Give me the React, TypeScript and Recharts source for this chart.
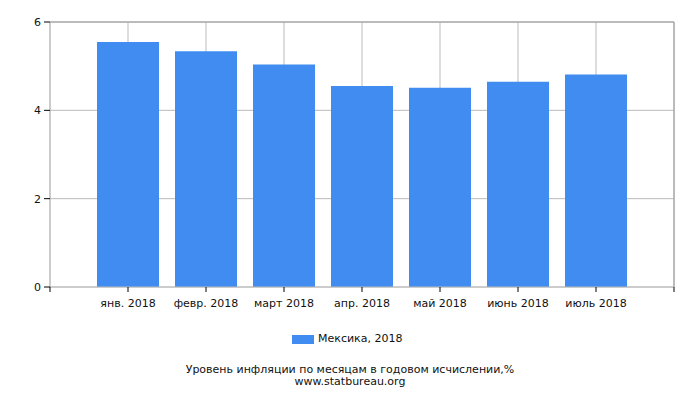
import { BarChart, Bar, XAxis, YAxis, CartesianGrid, ReferenceLine } from "recharts";

const months = ["янв. 2018", "февр. 2018", "март 2018", "апр. 2018", "май 2018", "июнь 2018", "июль 2018"];
const mexico = [5.55, 5.34, 5.04, 4.55, 4.51, 4.65, 4.81];
const yTicks = [0, 2, 4, 6];

const data = months.map((m, i) => ({ pos: i + 1, month: m, value: mexico[i] }));
const xTicks = [0, ...months.map((_, i) => i + 1), months.length + 1];

const font = "'DejaVu Sans', sans-serif";

export default function App() {
  return (
    <div style={{ position: "absolute", left: 0, top: 0, width: 700, height: 400, background: "#fff", fontFamily: font }}>
      <BarChart width={700} height={400} data={data} margin={{ top: 22, right: 26, left: 0, bottom: 0 }}>
        <CartesianGrid stroke="#bbb" />
        <XAxis
          dataKey="pos"
          type="number"
          domain={[0, months.length + 1]}
          ticks={xTicks}
          interval={0}
          height={113}
          tickSize={5}
          tickMargin={7}
          stroke="#bbb"
          tickLine={{ stroke: "#000" }}
          tick={{ fill: "#111", fontSize: 11, fontFamily: font }}
          tickFormatter={(v) => months[v - 1] ?? ""}
        />
        <YAxis
          width={50}
          domain={[0, 6]}
          ticks={yTicks}
          tickSize={6}
          tickMargin={3}
          stroke="#bbb"
          tickLine={{ stroke: "#000" }}
          tick={{ fill: "#111", fontSize: 11, fontFamily: font }}
        />
        <ReferenceLine y={6} stroke="#999" />
        <ReferenceLine x={months.length + 1} stroke="#999" />
        <Bar dataKey="value" fill="#418cf0" barSize={62} isAnimationActive={false} />
      </BarChart>
      <div style={{ position: "absolute", left: 292, top: 335, width: 22, height: 9, background: "#418cf0" }} />
      <div style={{ position: "absolute", left: 318, top: 332, fontSize: 11, color: "#111", whiteSpace: "nowrap" }}>
        Мексика, 2018
      </div>
      <div style={{ position: "absolute", left: 0, top: 364, width: 700, textAlign: "center", fontSize: 11, lineHeight: "12px", color: "#111" }}>
        Уровень инфляции по месяцам в годовом исчислении,%
        <br />
        www.statbureau.org
      </div>
    </div>
  );
}
